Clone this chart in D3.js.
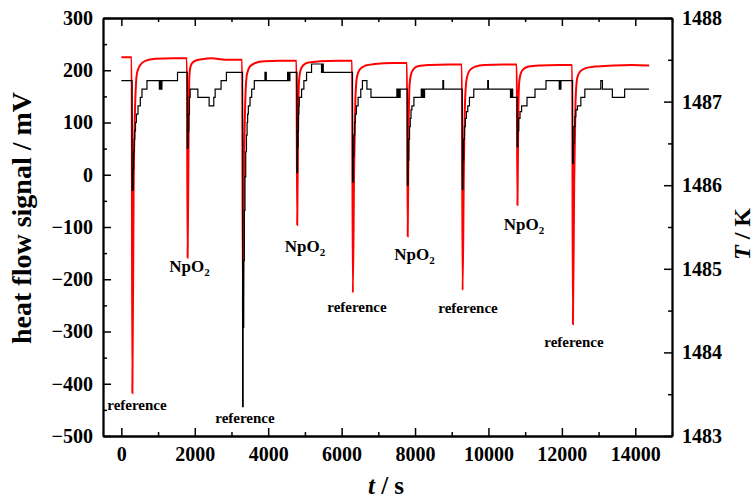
<!DOCTYPE html>
<html>
<head>
<meta charset="utf-8">
<script src="https://cdn.jsdelivr.net/npm/d3@7"></script>
<style>
  html, body { margin: 0; padding: 0; background: #fff; }
  svg { display: block; }
  .axis text { font-family: "Liberation Serif", "Times New Roman", serif; font-weight: bold; font-size: 20px; fill: #000; }
  .axis path, .axis line { stroke: #000; }
  .title { font-family: "Liberation Serif", "Times New Roman", serif; font-weight: bold; fill: #000; }
  .note { font-family: "Liberation Serif", "Times New Roman", serif; font-weight: bold; fill: #000; }
</style>
</head>
<body>
<div id="chart"></div>
<script>
(function(){
  // Heat flow signal (mV): [t in s, mV]
  const heatFlow = [
    [0,225],[280,225],
    [300,-418],[334,-29],[380,143],[427,195],[516,210],[652,218],[924,222],[1400,223],[1785,223],
    [1805,-159],[1830,60],[1848,181],[1875,204],[1920,213],[2011,218],[2192,221],[2464,223],[2826,220],[3290,220],
    [3312,-252],[3345,20],[3380,150],[3420,192],[3500,207],[3650,214],[3900,217],[4300,218],[4770,218],
    [4790,-96],[4815,100],[4840,180],[4880,200],[4960,210],[5100,215],[5400,217],[5900,218],[6285,218],
    [6306,-226],[6340,10],[6375,145],[6420,188],[6500,202],[6650,209],[6900,212],[7400,214],[7780,214],
    [7800,-118],[7825,90],[7850,170],[7890,192],[7970,203],[8100,208],[8400,210],[8900,211],[9275,211],
    [9296,-221],[9330,10],[9365,145],[9410,185],[9490,200],[9640,207],[9900,210],[10400,211],[10770,211],
    [10790,-58],[10812,110],[10835,175],[10875,193],[10950,202],[11100,207],[11400,209],[11900,210],[12280,210],
    [12301,-286],[12336,-10],[12372,140],[12418,185],[12500,198],[12650,204],[12900,207],[13400,209],[13900,210],[14380,209]
  ];

  // Sample temperature (K), stepped trace: [t in s, T]
  const temperature = [
    [0,1487.25],
    [292,1485.94],[320,1486.2],[335,1486.4],[350,1486.55],[365,1486.65],[385,1486.75],[410,1486.85],[454,1486.95],
    [516,1487.05],[562,1487.15],[698,1487.25],[1035,1487.15],[1050,1487.25],[1062,1487.15],[1078,1487.25],
    [1090,1487.15],[1105,1487.25],[1530,1487.35],
    [1797,1486.44],[1815,1486.65],[1835,1486.85],[1855,1487.05],[1875,1487.15],[2084,1487.05],[2391,1486.95],
    [2518,1487.05],[2555,1487.15],[2717,1487.25],[2862,1487.35],
    [3302,1483.35],[3318,1484.3],[3334,1485.1],[3350,1485.7],[3368,1486.1],[3388,1486.4],[3408,1486.6],
    [3425,1486.75],[3440,1486.85],[3459,1486.95],[3505,1487.05],[3551,1487.15],[3622,1487.25],[3912,1487.35],
    [3925,1487.25],[3935,1487.35],[3948,1487.25],[4529,1487.35],[4545,1487.25],[4560,1487.35],[4575,1487.25],
    [4592,1487.35],
    [4782,1486.15],[4798,1486.45],[4812,1486.65],[4825,1486.85],[4835,1486.95],[4845,1487.05],[4910,1487.15],
    [4972,1487.25],[5045,1487.35],[5181,1487.45],[5453,1487.35],[5465,1487.45],[5478,1487.35],[5490,1487.45],
    [5500,1487.35],
    [6297,1486.04],[6315,1486.35],[6335,1486.6],[6355,1486.75],[6375,1486.85],[6404,1486.95],[6449,1487.05],
    [6522,1487.15],[6567,1487.25],[6690,1487.15],[6800,1487.05],[7505,1487.15],[7520,1487.05],[7535,1487.15],
    [7550,1487.05],[7565,1487.15],[7580,1487.05],[7595,1487.15],
    [7792,1486.0],[7810,1486.3],[7830,1486.55],[7850,1486.7],[7870,1486.8],[7890,1486.9],[7915,1486.95],
    [7970,1487.05],[8170,1487.15],[8185,1487.05],[8200,1487.15],[8215,1487.05],[8230,1487.15],[8245,1487.05],
    [8260,1487.15],[8758,1487.25],[8778,1487.15],
    [9287,1485.95],[9305,1486.3],[9325,1486.55],[9345,1486.7],[9370,1486.8],[9400,1486.88],[9437,1486.95],
    [9483,1487.05],[9600,1487.15],[9980,1487.25],[9998,1487.15],[10600,1487.05],[10615,1487.15],[10630,1487.05],
    [10645,1487.15],[10660,1487.05],
    [10782,1486.46],[10800,1486.65],[10825,1486.8],[10860,1486.88],[10903,1486.95],[11050,1487.05],[11268,1487.15],
    [11567,1487.25],[11929,1487.15],[11945,1487.25],[11960,1487.15],[11974,1487.25],
    [12292,1486.26],[12310,1486.5],[12330,1486.7],[12355,1486.82],[12380,1486.9],[12425,1486.95],[12517,1487.05],
    [12626,1487.15],[13060,1487.25],[13105,1487.15],[13375,1487.05],[13710,1487.15],[14372,1487.15]
  ];

  // Tick values
  const timeTicks = [0, 2000, 4000, 6000, 8000, 10000, 12000, 14000];
  const timeMinor = [1000, 3000, 5000, 7000, 9000, 11000, 13000, 15000];
  const flowTicks = [-500, -400, -300, -200, -100, 0, 100, 200, 300];
  const flowMinor = [-450, -350, -250, -150, -50, 50, 150, 250];
  const tempTicks = [1483, 1484, 1485, 1486, 1487, 1488];
  const tempMinor = [1483.5, 1484.5, 1485.5, 1486.5, 1487.5];

  // Peak annotations: label, time and heat flow where the label sits
  const noteLabels = ['reference', 'NpO', 'reference', 'NpO', 'reference', 'NpO', 'reference', 'NpO', 'reference'];
  const noteTimes = [426, 1856, 3368, 5000, 6419, 7985, 9443, 10966, 12330];
  const noteFlows = [-450, -187, -475, -147, -262, -163, -265, -106, -329];

  const width = 755, height = 500;
  const margin = {top: 18, right: 83, bottom: 64, left: 103};

  const svg = d3.select('#chart').append('svg')
    .attr('width', width).attr('height', height);

  const x = d3.scaleLinear().domain([-500, 15000]).range([margin.left, width - margin.right]);
  const yFlow = d3.scaleLinear().domain([-500, 300]).range([height - margin.bottom, margin.top]);
  const yTemp = d3.scaleLinear().domain([1483, 1488]).range([height - margin.bottom, margin.top]);

  const bottom = height - margin.bottom, right = width - margin.right;

  // Traces: red heat flow first, black temperature over it
  svg.append('path')
    .datum(heatFlow)
    .attr('fill', 'none')
    .attr('stroke', '#ff0000')
    .attr('stroke-width', 2)
    .attr('d', d3.line().x(d => x(d[0])).y(d => yFlow(d[1])).curve(d3.curveMonotoneX));

  svg.append('path')
    .datum(temperature)
    .attr('fill', 'none')
    .attr('stroke', '#000')
    .attr('stroke-width', 1.2)
    .attr('d', d3.line().x(d => x(d[0])).y(d => yTemp(d[1])).curve(d3.curveStepAfter));

  // Axes with inward ticks
  function axis(gen, tf, values, size, labels){
    const g = svg.append('g').attr('class', 'axis').attr('transform', tf)
      .call(gen.tickValues(values).tickSizeInner(-size).tickSizeOuter(0).tickPadding(size === 8 ? 10 : 0));
    g.attr('font-family', null).attr('font-size', null);
    if(!labels) g.selectAll('text').remove();
    g.selectAll('line').attr('stroke-width', 1.5);
    g.select('.domain').attr('stroke-width', 1.8);
    return g;
  }

  axis(d3.axisBottom(x).tickFormat(d3.format('d')), `translate(0,${bottom})`, timeTicks, 8, true)
    .selectAll('text').attr('dy', '0.71em').attr('y', 11);
  axis(d3.axisBottom(x), `translate(0,${bottom})`, timeMinor, 4, false);
  axis(d3.axisTop(x), `translate(0,${margin.top})`, timeTicks, 8, false);
  axis(d3.axisTop(x), `translate(0,${margin.top})`, timeMinor, 4, false);

  axis(d3.axisLeft(yFlow).tickFormat(d3.format('d')), `translate(${margin.left},0)`, flowTicks, 8, true);
  axis(d3.axisLeft(yFlow), `translate(${margin.left},0)`, flowMinor, 4, false);

  axis(d3.axisRight(yTemp).tickFormat(d3.format('d')), `translate(${right},0)`, tempTicks, 8, true);
  axis(d3.axisRight(yTemp), `translate(${right},0)`, tempMinor, 4, false);

  // Axis titles
  svg.append('text').attr('class', 'title')
    .attr('transform', `translate(31,218) rotate(-90)`)
    .attr('text-anchor', 'middle')
    .style('font-size', '28px')
    .text('heat flow signal / mV');

  const tTitle = svg.append('text').attr('class', 'title')
    .attr('transform', `translate(750,234) rotate(-90)`)
    .attr('text-anchor', 'middle')
    .style('font-size', '24px');
  tTitle.append('tspan').style('font-style', 'italic').text('T');
  tTitle.append('tspan').text(' / K');

  const xTitle = svg.append('text').attr('class', 'title')
    .attr('x', 386).attr('y', 494)
    .attr('text-anchor', 'middle')
    .style('font-size', '25px');
  xTitle.append('tspan').style('font-style', 'italic').text('t');
  xTitle.append('tspan').text(' / s');

  // Peak labels
  noteLabels.forEach((label, i) => {
    const t = svg.append('text').attr('class', 'note')
      .attr('x', x(noteTimes[i])).attr('y', yFlow(noteFlows[i]))
      .attr('text-anchor', 'middle');
    if(label === 'NpO'){
      t.style('font-size', '17px');
      t.append('tspan').text('NpO');
      t.append('tspan').attr('dy', 4).style('font-size', '11px').text('2');
    } else {
      t.style('font-size', '15px').text(label);
    }
  });
})();
</script>
</body>
</html>
